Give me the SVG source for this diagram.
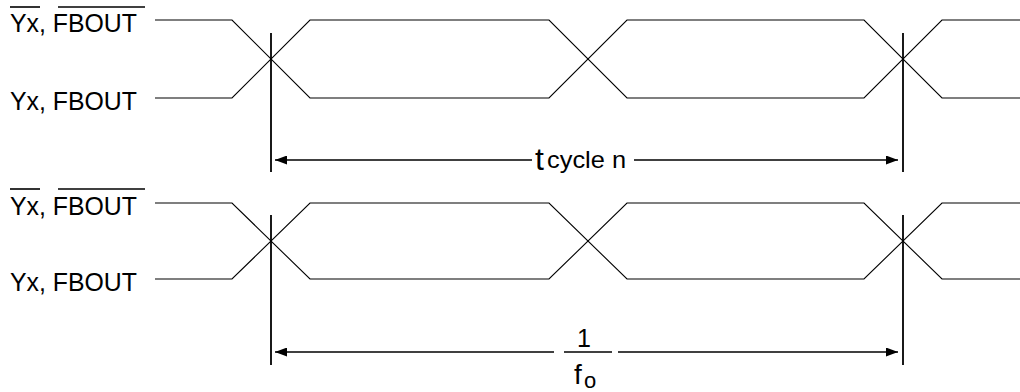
<svg xmlns="http://www.w3.org/2000/svg" width="1020" height="392" viewBox="0 0 1020 392">
<defs>
<style>
.wave{fill:none;stroke:#000;stroke-width:1.1}
.mark{stroke:#000;stroke-width:1.8}
.dim{stroke:#000;stroke-width:1.5;fill:none}
.lbl{font-family:"Liberation Sans",Arial,sans-serif;font-size:25px;fill:#000}
.ovl{stroke:#000;stroke-width:1.6}
</style>
<marker id="ah" markerWidth="12" markerHeight="9" refX="12" refY="4.5" orient="auto-start-reverse" markerUnits="userSpaceOnUse">
<path d="M0,0 L12,4.5 L0,9 Z" fill="#000"/>
</marker>
</defs>
<rect width="1020" height="392" fill="#fff"/>
<g id="labels-top">
<text class="lbl" x="10" y="32" textLength="127" lengthAdjust="spacingAndGlyphs">Yx, FBOUT</text>
<line class="ovl" x1="10" y1="7" x2="40" y2="7"/>
<line class="ovl" x1="58" y1="7" x2="145" y2="7"/>
<text class="lbl" x="10" y="110" textLength="127" lengthAdjust="spacingAndGlyphs">Yx, FBOUT</text>
</g>
<g id="labels-bottom">
<text class="lbl" x="10" y="215" textLength="127" lengthAdjust="spacingAndGlyphs">Yx, FBOUT</text>
<line class="ovl" x1="10" y1="189" x2="40" y2="189"/>
<line class="ovl" x1="58" y1="189" x2="145" y2="189"/>
<text class="lbl" x="10" y="291" textLength="127" lengthAdjust="spacingAndGlyphs">Yx, FBOUT</text>
</g>
<g id="wave-top">
<path class="wave" d="M155,20 H232 L310,98 H549 L627,20 H864 L942,98 H1020"/>
<path class="wave" d="M155,98 H232 L310,20 H549 L627,98 H864 L942,20 H1020"/>
</g>
<g id="wave-bottom">
<path class="wave" d="M155,203 H232 L310,279 H549 L627,203 H864 L942,279 H1020"/>
<path class="wave" d="M155,279 H232 L310,203 H549 L627,279 H864 L942,203 H1020"/>
</g>
<g id="connectors">
<line class="mark" x1="271" y1="33" x2="271" y2="172"/>
<line class="mark" x1="903" y1="33" x2="903" y2="172"/>
<line class="mark" x1="271" y1="215" x2="271" y2="365"/>
<line class="mark" x1="903" y1="215" x2="903" y2="365"/>
<line class="dim" x1="532" y1="160" x2="275" y2="160" marker-end="url(#ah)"/>
<line class="dim" x1="634" y1="160" x2="898" y2="160" marker-end="url(#ah)"/>
<line class="dim" x1="554" y1="352" x2="275" y2="352" marker-end="url(#ah)"/>
<line class="dim" x1="618" y1="352" x2="898" y2="352" marker-end="url(#ah)"/>
</g>
<g id="label-tcycle">
<text class="lbl" x="535" y="170" style="font-size:32px">t</text>
<text class="lbl" x="547" y="168" style="font-size:24px" textLength="79" lengthAdjust="spacingAndGlyphs">cycle n</text>
</g>
<g id="label-freq">
<text class="lbl" x="577" y="347" style="font-size:25px">1</text>
<line class="dim" x1="564" y1="352" x2="612" y2="352"/>
<text class="lbl" x="574" y="384" style="font-size:28px">f</text>
<text class="lbl" x="584" y="388" style="font-size:22px">o</text>
</g>
</svg>
